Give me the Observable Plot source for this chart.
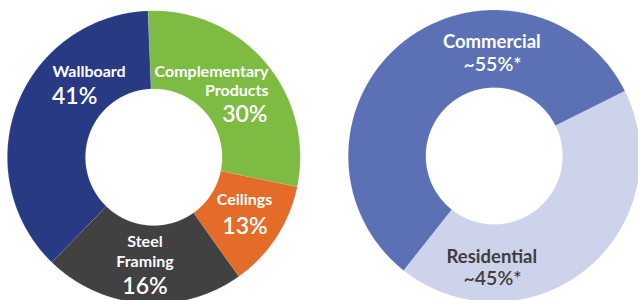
<!DOCTYPE html>
<html><head><meta charset="utf-8">
<script src="https://cdn.jsdelivr.net/npm/d3@7"></script>
<script src="https://cdn.jsdelivr.net/npm/@observablehq/plot@0.6"></script>
<style>body{margin:0;background:#fff;overflow:hidden}</style>
</head><body><div id="chart"></div>
<script>
// ---- data ----
// Left donut: product segments, clockwise from the top
const productSegments = ["Complementary Products", "Ceilings", "Steel Framing", "Wallboard"];
const productArcShare = [28.9, 11.9, 22.1, 37.1];      // wedge sizes as drawn (%)
const productLabelPct = ["30%", "13%", "16%", "41%"];   // printed labels
// Right donut: end markets, clockwise
const marketSegments = ["Residential", "Commercial"];
const marketArcShare = [43, 57];                        // wedge sizes as drawn (%)
const marketLabelPct = ["~45%*", "~55%*"];

// ---- styles / layout ----
const productColors = ["#7dbb43", "#e56b28", "#414141", "#273a83"];
const marketColors = ["#cdd3ea", "#5b70b5"];

const donuts = [
  {key: "products", cx: 153.3, cy: 156.7, R: 146.5, r: 68.3, start: -2.3,
   names: productSegments, shares: productArcShare, colors: productColors},
  {key: "markets", cx: 493.7, cy: 155.5, R: 146, r: 68.3, start: 63.6,
   names: marketSegments, shares: marketArcShare, colors: marketColors}
];

// build wedge outlines from the shares
const rad = Math.PI / 180;
const wedgePts = [];
for (const d of donuts) {
  const total = d3.sum(d.shares);
  let a = d.start;
  d.shares.forEach((s, i) => {
    const a0 = a, a1 = a + s / total * 360;
    a = a1;
    const n = Math.max(8, Math.ceil((a1 - a0) / 0.5));
    const id = d.key + "-" + i;
    for (let k = 0; k <= n; k++) {
      const t = (a0 + (a1 - a0) * k / n) * rad;
      wedgePts.push({id, color: d.colors[i], x: d.cx + d.R * Math.sin(t), y: d.cy - d.R * Math.cos(t)});
    }
    for (let k = n; k >= 0; k--) {
      const t = (a0 + (a1 - a0) * k / n) * rad;
      wedgePts.push({id, color: d.colors[i], x: d.cx + d.r * Math.sin(t), y: d.cy - d.r * Math.cos(t)});
    }
  });
}

// label placement (layout)
const labelLayout = {
  "Complementary Products": {x: 268, anchor: "end", lines: ["Complementary", "Products"], ys: [76.7, 95], py: 121.7, px: 267, fill: "white", pctSize: 23, nameSize: 16},
  "Ceilings": {x: 244, anchor: "middle", lines: ["Ceilings"], ys: [204.3], py: 233.3, px: 244.5, fill: "white", pctSize: 23, nameSize: 16},
  "Steel Framing": {x: 144.5, anchor: "middle", lines: ["Steel", "Framing"], ys: [246.6, 266.6], py: 293.3, px: 144.5, fill: "white", pctSize: 23, nameSize: 16},
  "Wallboard": {x: 52, anchor: "start", lines: ["Wallboard"], ys: [76.9], py: 103.6, px: 51.5, fill: "white", pctSize: 23, nameSize: 16},
  "Residential": {x: 491.3, anchor: "middle", lines: ["Residential"], ys: [262.2], py: 284, px: 492, fill: "#3e3e3e", pctSize: 19.5, nameSize: 18.5},
  "Commercial": {x: 491.3, anchor: "middle", lines: ["Commercial"], ys: [47.9], py: 70.8, px: 492, fill: "white", pctSize: 19.5, nameSize: 18.5}
};

const labelMarks = [];
const allNames = productSegments.concat(marketSegments);
const allPct = productLabelPct.concat(marketLabelPct);
allNames.forEach((name, i) => {
  const L = labelLayout[name];
  const rows = L.lines.map((t, j) => ({t, x: L.x, y: L.ys[j]}));
  labelMarks.push(Plot.text(rows, {x: "x", y: "y", text: "t", textAnchor: L.anchor, lineAnchor: "bottom",
    fill: L.fill, fontSize: L.nameSize, fontWeight: "bold", fontFamily: "Lato"}));
  labelMarks.push(Plot.text([{t: allPct[i], x: L.px, y: L.py}], {x: "x", y: "y", text: "t", textAnchor: L.anchor, lineAnchor: "bottom",
    fill: L.fill, fontSize: L.pctSize, fontWeight: 600, fontFamily: "Lato"}));
});

const chart = Plot.plot({
  width: 638, height: 300, margin: 0,
  x: {domain: [0, 638], range: [0, 638], axis: null},
  y: {domain: [0, 300], range: [0, 300], axis: null},
  style: {background: "white", fontFamily: "Lato"},
  marks: [
    Plot.line(wedgePts, {x: "x", y: "y", z: "id", fill: "color", stroke: "white", strokeWidth: 0.4, strokeOpacity: 0.5, curve: "linear"}),
    ...labelMarks
  ]
});
document.getElementById("chart").appendChild(chart);
</script>
</body></html>
